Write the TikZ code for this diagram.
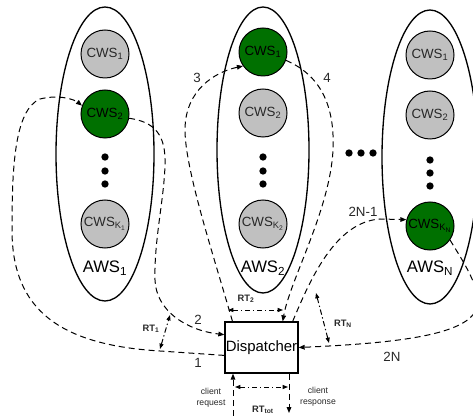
\documentclass[tikz,border=0pt]{standalone}
\usepackage{fontspec}
\setmainfont{Liberation Sans}
\usetikzlibrary{arrows.meta}

\definecolor{cwsgreen}{RGB}{0,112,0}
\definecolor{cwsgray}{RGB}{192,192,192}
\definecolor{txtgray}{RGB}{40,40,40}

\tikzset{every picture/.style={line width=0.75pt}}
\tikzset{
  cws/.style={circle, draw, fill=cwsgray, minimum size=36pt, inner sep=0pt, text=txtgray, font=\fontsize{10}{12}\selectfont},
  cwson/.style={cws, fill=cwsgreen, text=black},
  srvdot/.style={circle, fill, inner sep=0pt, minimum size=5.5pt},
  flow/.style={dash pattern=on 4.5pt off 3pt, -{Triangle[length=4.5pt,width=3.5pt]}},
  rtmark/.style={dash pattern=on 4pt off 2pt on 1pt off 2pt, {Triangle[length=4pt,width=3pt]}-{Triangle[length=4pt,width=3pt]}},
  steplbl/.style={text=txtgray, font=\fontsize{10}{12}\selectfont, inner sep=0.75pt},
  rtlbl/.style={text=txtgray, font=\fontsize{7}{8}\selectfont\bfseries, inner sep=0.75pt},
  clientlbl/.style={text=txtgray, font=\fontsize{6.5}{8.5}\selectfont, align=center, inner sep=0.75pt},
}

\begin{document}
\begin{tikzpicture}[x=0.75pt,y=0.75pt,yscale=-1,xscale=1]
\useasboundingbox (0,0) rectangle (473,416);

%Shape: Ellipse AWS_1, AWS_2, AWS_N
\draw [line width=1pt] (105,154) ellipse [x radius=49, y radius=147];
\draw [line width=1pt] (263,150) ellipse [x radius=46, y radius=143];
\draw [line width=1pt] (430,157) ellipse [x radius=48, y radius=147];

% CWS nodes
\node [cws]   (c11) at (105,54)  {CWS\textsubscript{1}};
\node [cwson] (c12) at (105,114) {CWS\textsubscript{2}};
\node [cws]   (c1k) at (105,224) {CWS\textsubscript{K\textsubscript{1}}};
\node [cwson] (c21) at (263,52)  {CWS\textsubscript{1}};
\node [cws]   (c22) at (263,113) {CWS\textsubscript{2}};
\node [cws]   (c2k) at (263,224) {CWS\textsubscript{K\textsubscript{2}}};
\node [cws]   (cn1) at (430,55)  {CWS\textsubscript{1}};
\node [cws]   (cn2) at (430,115) {CWS\textsubscript{2}};
\node [cwson] (cnk) at (430,226) {CWS\textsubscript{K\textsubscript{N}}};

% dots
\foreach \y in {157,171,184} {
  \node [srvdot] at (105,\y) {};
  \node [srvdot] at (263,\y) {};
}
\foreach \y in {160,173,186} \node [srvdot] at (430,\y) {};
\foreach \x in {349,361,373} \node [srvdot] at (\x,153) {};

% Text Node
\node [font=\fontsize{12.5}{14}\selectfont] (aws1) at (105,268) {AWS\textsubscript{1}};
\node [font=\fontsize{12.5}{14}\selectfont] (aws2) at (263,268) {AWS\textsubscript{2}};
\node [font=\fontsize{12.5}{14}\selectfont] (awsn) at (430,268) {AWS\textsubscript{N}};

% Dispatcher
\node [draw, line width=1pt, fill=white, minimum width=54.75pt, minimum height=38.25pt, inner sep=0pt, font=\fontsize{11.2}{13}\selectfont] (disp) at (261.5,347.5) {Dispatcher};

%Curve Lines 1
\draw [flow] (disp.192) -- (160,351) .. controls (60,345) and (12,310) .. (12,230) .. controls (12,170) and (14,110) .. (40,99) .. controls (60,94) and (75,100) .. (c12.160);
%Curve Lines 2
\draw [flow] (c12.-10) .. controls (155,122) and (166,135) .. (165,165) .. controls (164,200) and (154,240) .. (155,280) .. controls (156,310) and (185,330) .. (disp.161);
%Curve Lines 3
\draw [flow] (disp.138) .. controls (215,260) and (185,170) .. (185,130) .. controls (185,90) and (215,72) .. (c21.215);
%Curve Lines 4
\draw [flow] (c21.-20) .. controls (320,75) and (335,105) .. (333,150) .. controls (330,210) and (290,280) .. (disp.51);
%Curve Lines 2N-1
\draw [flow] (disp.40) .. controls (310,280) and (335,222) .. (380,219) -- (cnk.165);
%Curve Lines 2N
\draw [flow] (cnk.-35) .. controls (465,265) and (490,300) .. (470,318) .. controls (450,335) and (400,343) .. (disp.east);

% client request / response
\coordinate (reqin) at (233,416);
\coordinate (respout) at (289,413);
\draw [flow] (reqin) -- (reqin |- disp.south);
\draw [flow] (disp.south -| respout) -- (respout);

% response times
\coordinate (rt1a) at (160,349);  \coordinate (rt1b) at (170,315);
\coordinate (rt2a) at (228,310);  \coordinate (rt2b) at (283,310);
\coordinate (rtna) at (316,293);  \coordinate (rtnb) at (329,343);
\coordinate (rtta) at (235,387);  \coordinate (rttb) at (288,387);
\draw [rtmark] (rt1a) -- (rt1b);
\draw [rtmark] (rt2a) -- (rt2b);
\draw [rtmark] (rtna) -- (rtnb);
\draw [rtmark] (rtta) -- (rttb);

% Text Node
\node [steplbl] (n1) at (198,363) {1};
\node [steplbl] (n2) at (198,320) {2};
\node [steplbl] (n3) at (197,78) {3};
\node [steplbl] (n4) at (327,78) {4};
\node [steplbl] (n2n1) at (363,212) {2N-1};
\node [steplbl] (n2n) at (392,357) {2N};
\node [rtlbl] (lrt1) at (151,329) {RT\textsubscript{1}};
\node [rtlbl] (lrt2) at (246,299) {RT\textsubscript{2}};
\node [rtlbl] (lrtn) at (343,324) {RT\textsubscript{N}};
\node [rtlbl] (lrtt) at (263,410) {RT\textsubscript{tot}};
\node [clientlbl] (lreq) at (211,398) {client\\request};
\node [clientlbl] (lresp) at (318,397) {client\\response};

\end{tikzpicture}
\end{document}
